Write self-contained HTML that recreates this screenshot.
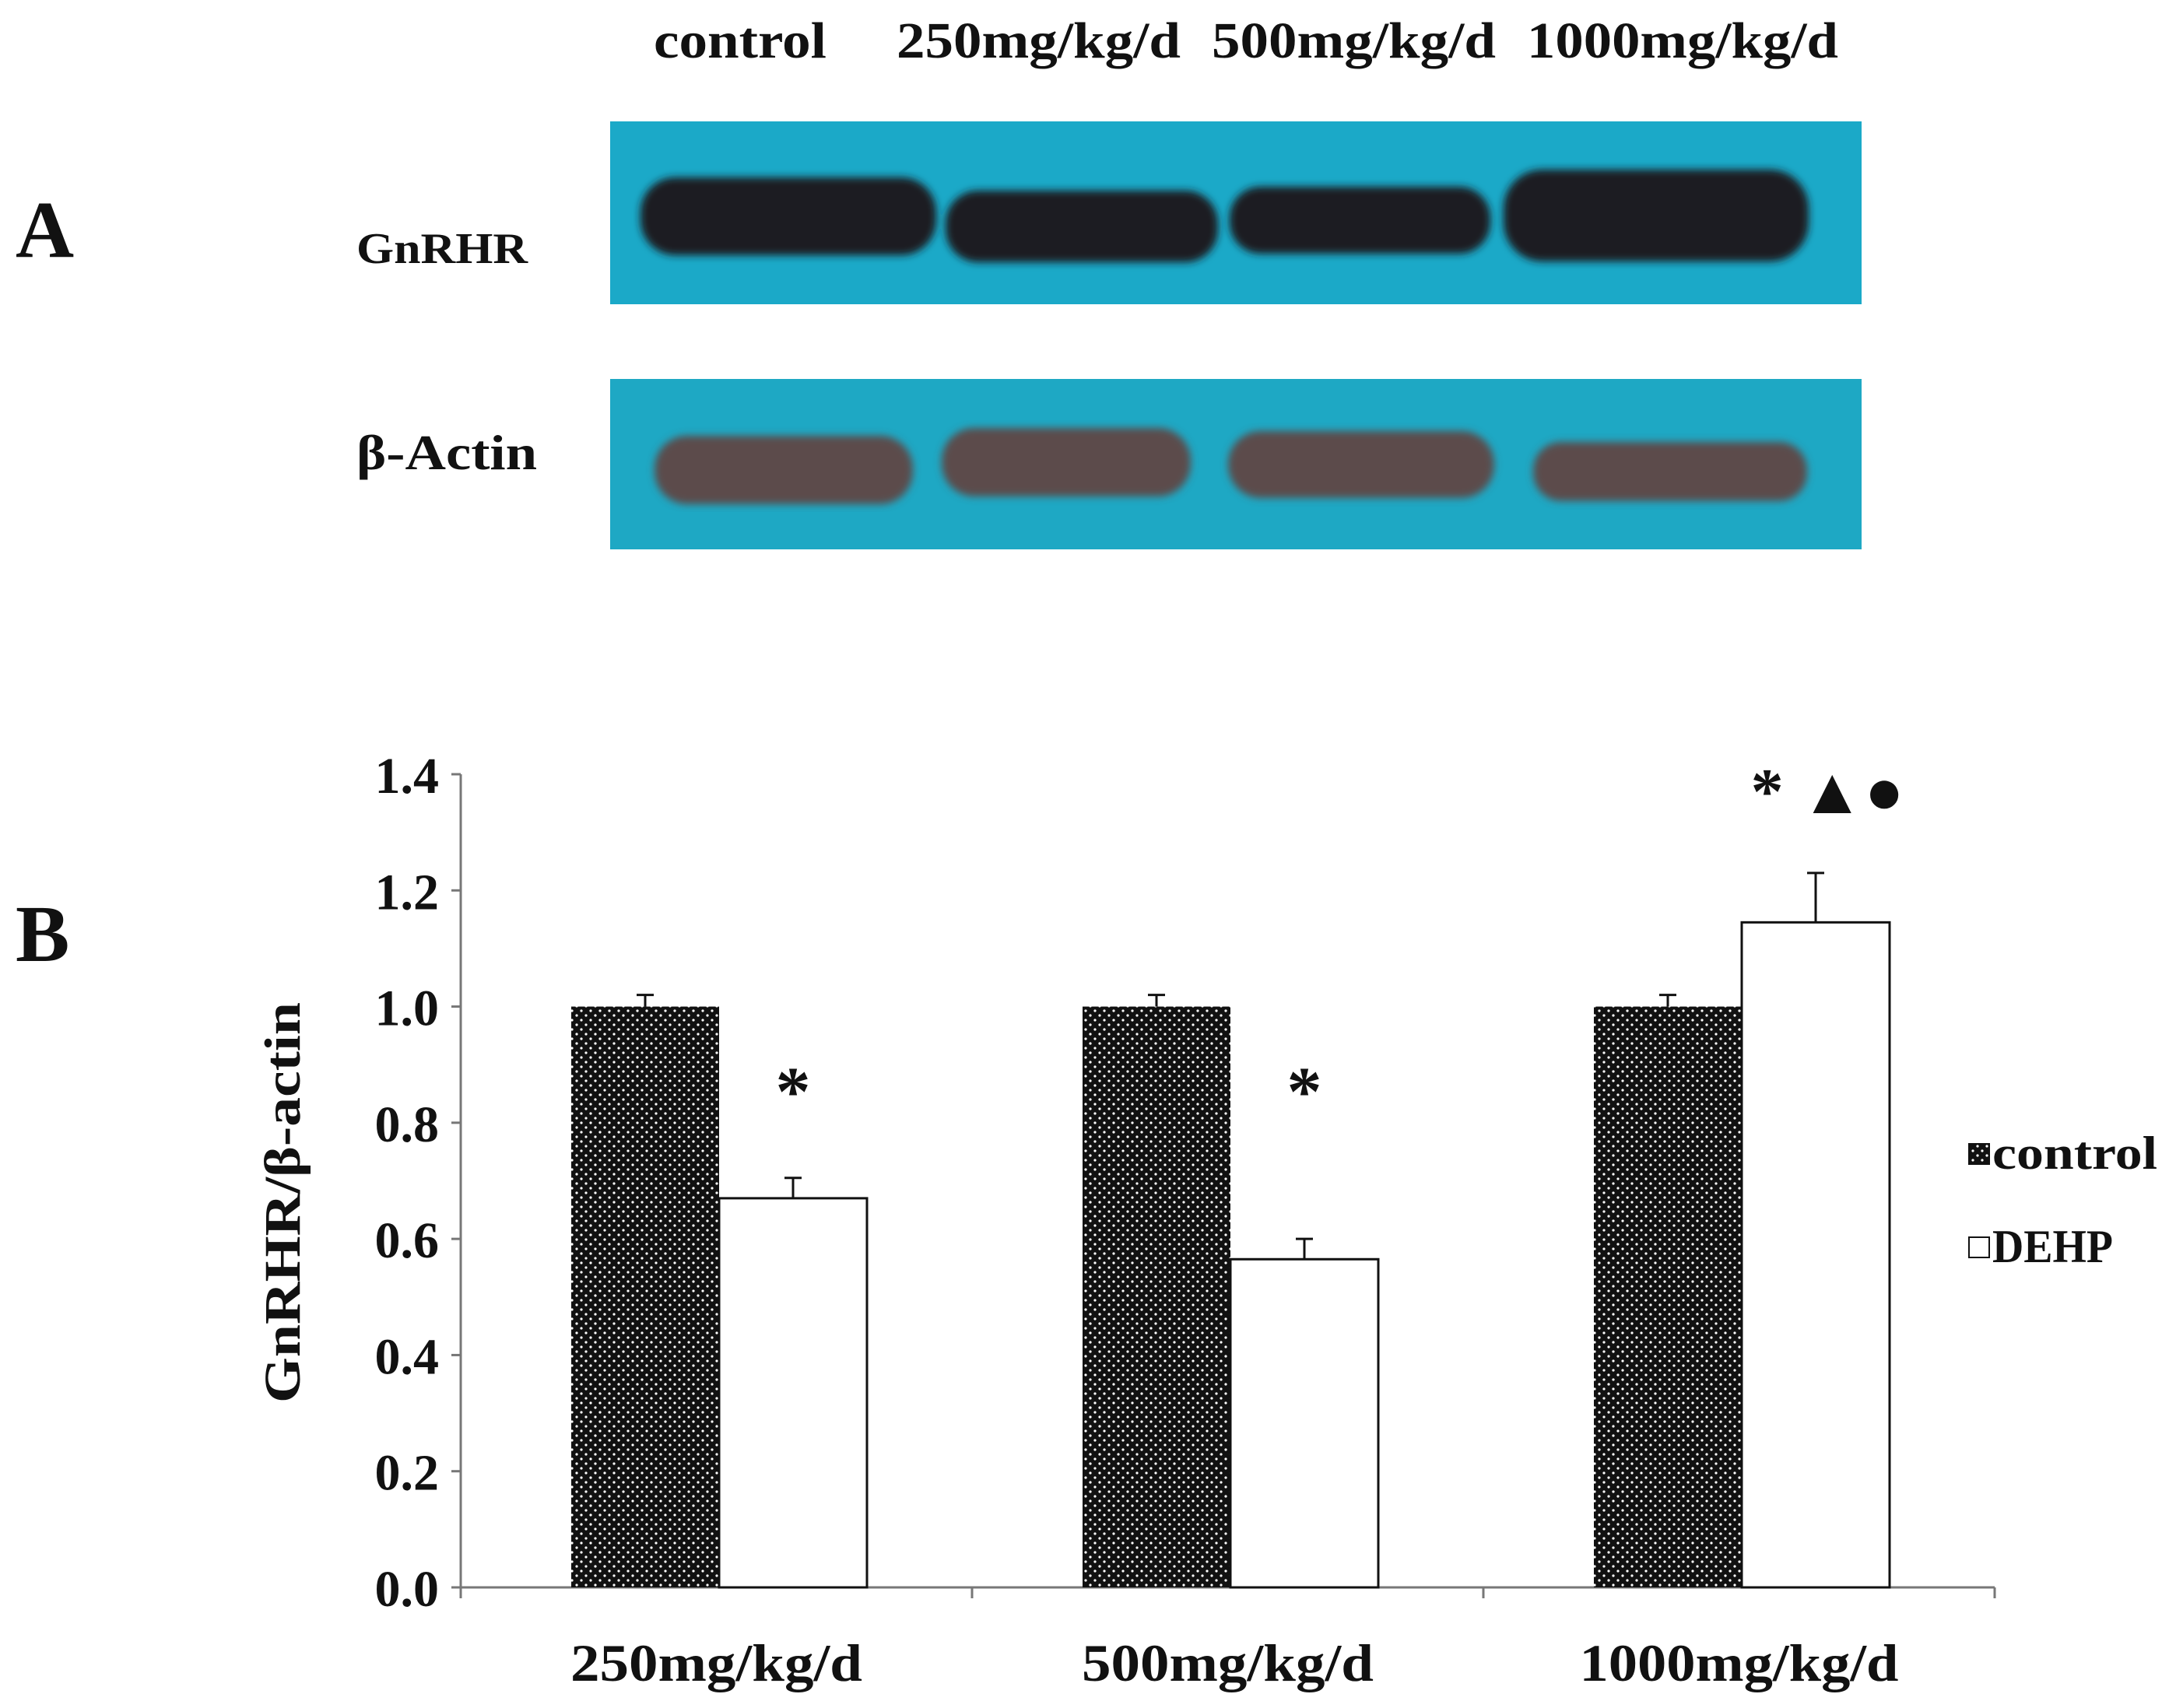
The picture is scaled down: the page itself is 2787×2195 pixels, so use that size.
<!DOCTYPE html>
<html><head><meta charset="utf-8"><style>
html,body{margin:0;padding:0;background:#fff;}
svg{display:block;}
text{font-family:"Liberation Serif",serif;font-weight:bold;fill:#111;}
</style></head><body>
<svg id="fig" width="2787" height="2195" viewBox="0 0 2787 2195" xmlns="http://www.w3.org/2000/svg">
<defs>
<pattern id="dots" width="12" height="12" patternUnits="userSpaceOnUse">
<rect width="12" height="12" fill="#111"/>
<circle cx="3" cy="3" r="1.6" fill="#fff"/>
<circle cx="9" cy="9" r="1.6" fill="#fff"/>
</pattern>
<filter id="blur"><feGaussianBlur stdDeviation="5"/></filter>
</defs>
<!-- Panel A -->
<text x="20" y="330" font-size="104">A</text>
<g font-size="66">
<text x="840" y="74" textLength="222" lengthAdjust="spacingAndGlyphs">control</text>
<text x="1152" y="74" textLength="365" lengthAdjust="spacingAndGlyphs">250mg/kg/d</text>
<text x="1557" y="74" textLength="365" lengthAdjust="spacingAndGlyphs">500mg/kg/d</text>
<text x="1962" y="74" textLength="400" lengthAdjust="spacingAndGlyphs">1000mg/kg/d</text>
</g>
<text x="458" y="338" font-size="56" textLength="220" lengthAdjust="spacingAndGlyphs">GnRHR</text>
<text x="458" y="603" font-size="64" textLength="232" lengthAdjust="spacingAndGlyphs">β-Actin</text>
<g>
<rect x="784" y="156" width="1608" height="235" fill="#1ba9c8"/>
<g filter="url(#blur)" fill="#1b1d22">
<rect x="823" y="228" width="380" height="100" rx="45"/>
<rect x="1215" y="245" width="350" height="92" rx="42"/>
<rect x="1580" y="240" width="335" height="86" rx="40"/>
<rect x="1932" y="218" width="392" height="118" rx="50"/>
</g></g>
<g>
<rect x="784" y="487" width="1608" height="219" fill="#1ea8c4"/>
<g filter="url(#blur)" fill="#5b4b4c">
<rect x="841" y="560" width="332" height="88" rx="42"/>
<rect x="1210" y="550" width="320" height="88" rx="42"/>
<rect x="1578" y="554" width="342" height="86" rx="42"/>
<rect x="1970" y="568" width="352" height="76" rx="36"/>
</g></g>
<!-- Panel B -->
<text x="20" y="1235" font-size="104">B</text>
<g id="chart"></g>
</svg>
<script>
const categories = ["250mg/kg/d","500mg/kg/d","1000mg/kg/d"];
const controlVals = [1.0,1.0,1.0];
const controlErr = [0.02,0.02,0.02];
const dehpVals = [0.67,0.565,1.145];
const dehpErr = [0.035,0.035,0.085];
const annotations = ["*","*","* ▲●"];
const yTicks = ["0.0","0.2","0.4","0.6","0.8","1.0","1.2","1.4"];

const NS="http://www.w3.org/2000/svg";
const g=document.getElementById('chart');
const X0=592,X1=2563,Y0=2040,Y1=995,YMAX=1.4;
const catW=(X1-X0)/categories.length;
function y(v){return Y0-(v/YMAX)*(Y0-Y1);}
function mk(t,a,p){const e=document.createElementNS(NS,t);for(const k in a)e.setAttribute(k,a[k]);(p||g).appendChild(e);return e;}
let ax=mk('line',{x1:X0,y1:Y1,x2:X0,y2:Y0,stroke:'#777','stroke-width':3});


let bx=mk('line',{x1:X0,y1:Y0,x2:X1,y2:Y0,stroke:'#777','stroke-width':3});


yTicks.forEach(t=>{const v=parseFloat(t);
 mk('line',{x1:X0-12,y1:y(v),x2:X0,y2:y(v),stroke:'#777','stroke-width':3});
 const tx=mk('text',{x:X0-28,y:y(v)+24,'font-size':66,'text-anchor':'end'});tx.textContent=t;
 
 
});
for(let i=0;i<=categories.length;i++){mk('line',{x1:X0+i*catW,y1:Y0,x2:X0+i*catW,y2:Y0+14,stroke:'#777','stroke-width':3});}
const yt=mk('text',{x:0,y:0,'font-size':66,'text-anchor':'middle',textLength:515,lengthAdjust:'spacingAndGlyphs',transform:`translate(385,${(Y0+Y1)/2+28}) rotate(-90)`});
yt.textContent='GnRHR/β-actin';


const bw=190,off=142;
categories.forEach((c,i)=>{
 const cx=X0+i*catW;
 const b1=mk('rect',{x:cx+off,y:y(controlVals[i]),width:bw,height:Y0-y(controlVals[i]),fill:'url(#dots)'});
 
 
 const b2=mk('rect',{x:cx+off+bw,y:y(dehpVals[i]),width:bw,height:Y0-y(dehpVals[i]),fill:'#fff',stroke:'#111','stroke-width':3});
 
 
 [[controlVals[i],controlErr[i],cx+off+bw/2],[dehpVals[i],dehpErr[i],cx+off+1.5*bw]].forEach(([v,e,xm])=>{
  mk('line',{x1:xm,y1:y(v),x2:xm,y2:y(v+e),stroke:'#111','stroke-width':3});
  mk('line',{x1:xm-11,y1:y(v+e),x2:xm+11,y2:y(v+e),stroke:'#111','stroke-width':3});
 });
 const an=mk('text',{x:cx+off+1.5*bw+(i==2?15:0),y:i==2?y(1.4)+50:y(0.8)-10,'font-size':i==2?84:90,'text-anchor':'middle'});
 an.textContent=annotations[i];
 
 
 const cl=mk('text',{x:cx+catW/2,y:2160,'font-size':68,'text-anchor':'middle',textLength:i==2?410:375,lengthAdjust:'spacingAndGlyphs'});
 cl.textContent=c;
 
 
});
const lg=mk('g',{});


mk('rect',{x:2530,y:1470,width:26,height:26,fill:'url(#dots)',stroke:'#111','stroke-width':2},lg);
let l1=mk('text',{x:2560,y:1502,'font-size':60,textLength:212,lengthAdjust:'spacingAndGlyphs'},lg);l1.textContent='control';
mk('rect',{x:2530,y:1590,width:26,height:26,fill:'#fff',stroke:'#111','stroke-width':2},lg);
let l2=mk('text',{x:2560,y:1622,'font-size':60,textLength:155,lengthAdjust:'spacingAndGlyphs'},lg);l2.textContent='DEHP';
</script>
</body></html>
